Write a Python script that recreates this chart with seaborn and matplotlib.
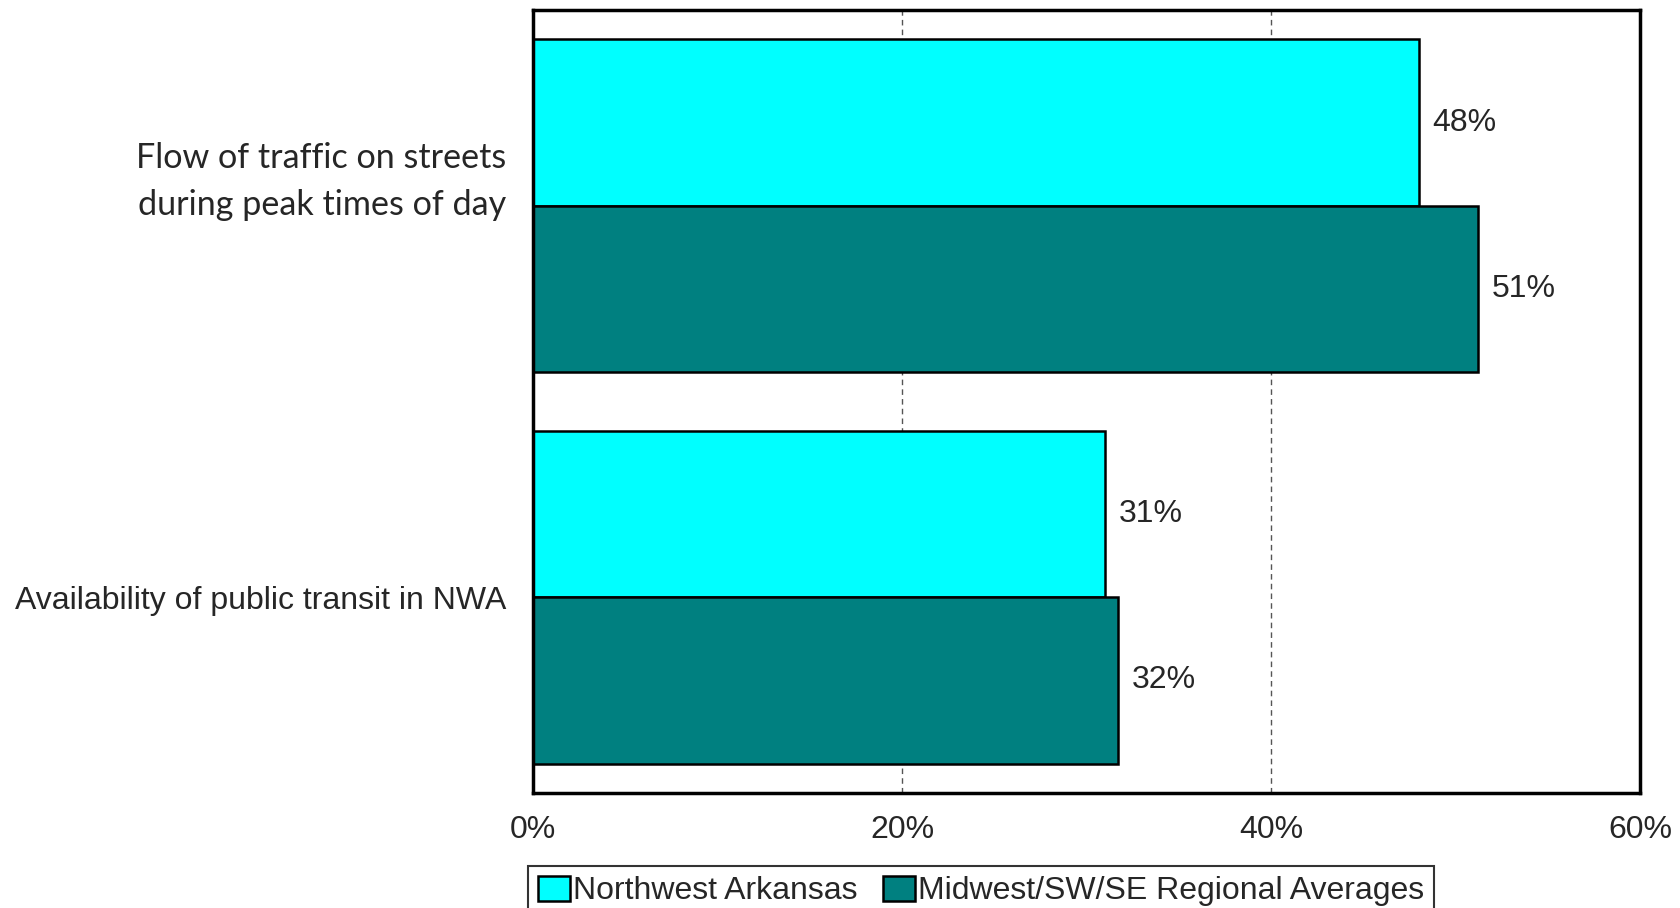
import matplotlib
matplotlib.use("Agg")
import matplotlib.pyplot as plt
import matplotlib.transforms as mtransforms
import seaborn as sns
import pandas as pd

categories = ["Flow of traffic on streets\nduring peak times of day",
              "Availability of public transit in NWA"]
series_names = ["Northwest Arkansas", "Midwest/SW/SE Regional Averages"]
nwa_values = [48.0, 31.0]
regional_values = [51.2, 31.7]
value_labels_nwa = ["48%", "31%"]
value_labels_reg = ["51%", "32%"]
x_ticks = [0, 20, 40, 60]
x_tick_labels = ["0%", "20%", "40%", "60%"]
colors = ["#00FFFF", "#008080"]

sns.set_theme(style="white")
plt.rcParams['font.family'] = ['Liberation Sans', 'DejaVu Sans']

df = pd.DataFrame({
    "category": categories * 2,
    "value": nwa_values + regional_values,
    "series": [series_names[0]] * 2 + [series_names[1]] * 2,
})

fig = plt.figure(figsize=(16.81, 9.08), dpi=100)
ax = fig.add_axes([0.3171, 0.1267, 0.9756 - 0.3171, 0.989 - 0.1267])

sns.barplot(data=df, y="category", x="value", hue="series", orient="h",
            palette=colors, hue_order=series_names, order=categories,
            edgecolor="black", linewidth=1.8, width=0.85, ax=ax, saturation=1)

ax.set_xlim(0, 60)
ax.set_ylim(1.5, -0.5)
ax.set_xticks(x_ticks)
ax.set_xticklabels(x_tick_labels, fontsize=23)
ax.set_xlabel("")
ax.set_ylabel("")
ax.tick_params(axis="x", length=0, pad=16)
ax.tick_params(axis="y", length=0, pad=19.5)

for v in [20, 40]:
    ax.axvline(v, color="#555555", linestyle=(0, (4, 3)), linewidth=1.0, zorder=0)

for s in ax.spines.values():
    s.set_color("black")
    s.set_linewidth(2.5)

ylabels = ax.get_yticklabels()
ylabels[0].set_fontfamily(['Lato', 'DejaVu Sans'])
ylabels[0].set_fontsize(24.6)
ylabels[0].set_linespacing(1.58)
ylabels[0].set_transform(ylabels[0].get_transform() +
                         mtransforms.ScaledTranslation(0, 0.35, fig.dpi_scale_trans))
ylabels[1].set_fontsize(23)

containers = ax.containers
ax.bar_label(containers[0], labels=value_labels_nwa, padding=10, fontsize=23)
ax.bar_label(containers[1], labels=value_labels_reg, padding=10, fontsize=23)

handles, labels = ax.get_legend_handles_labels()
ax.get_legend().remove()
leg = fig.legend(handles, labels, loc="upper center", bbox_to_anchor=(0.5836, 0.0463),
                 ncol=2, fontsize=23, frameon=True, fancybox=False,
                 handlelength=1.0, handleheight=0.85, handletextpad=0.1,
                 columnspacing=0.8, borderpad=0.3, borderaxespad=0)
leg.get_frame().set_edgecolor("black")
leg.get_frame().set_linewidth(1.5)

fig.savefig("out.png", dpi=100)
